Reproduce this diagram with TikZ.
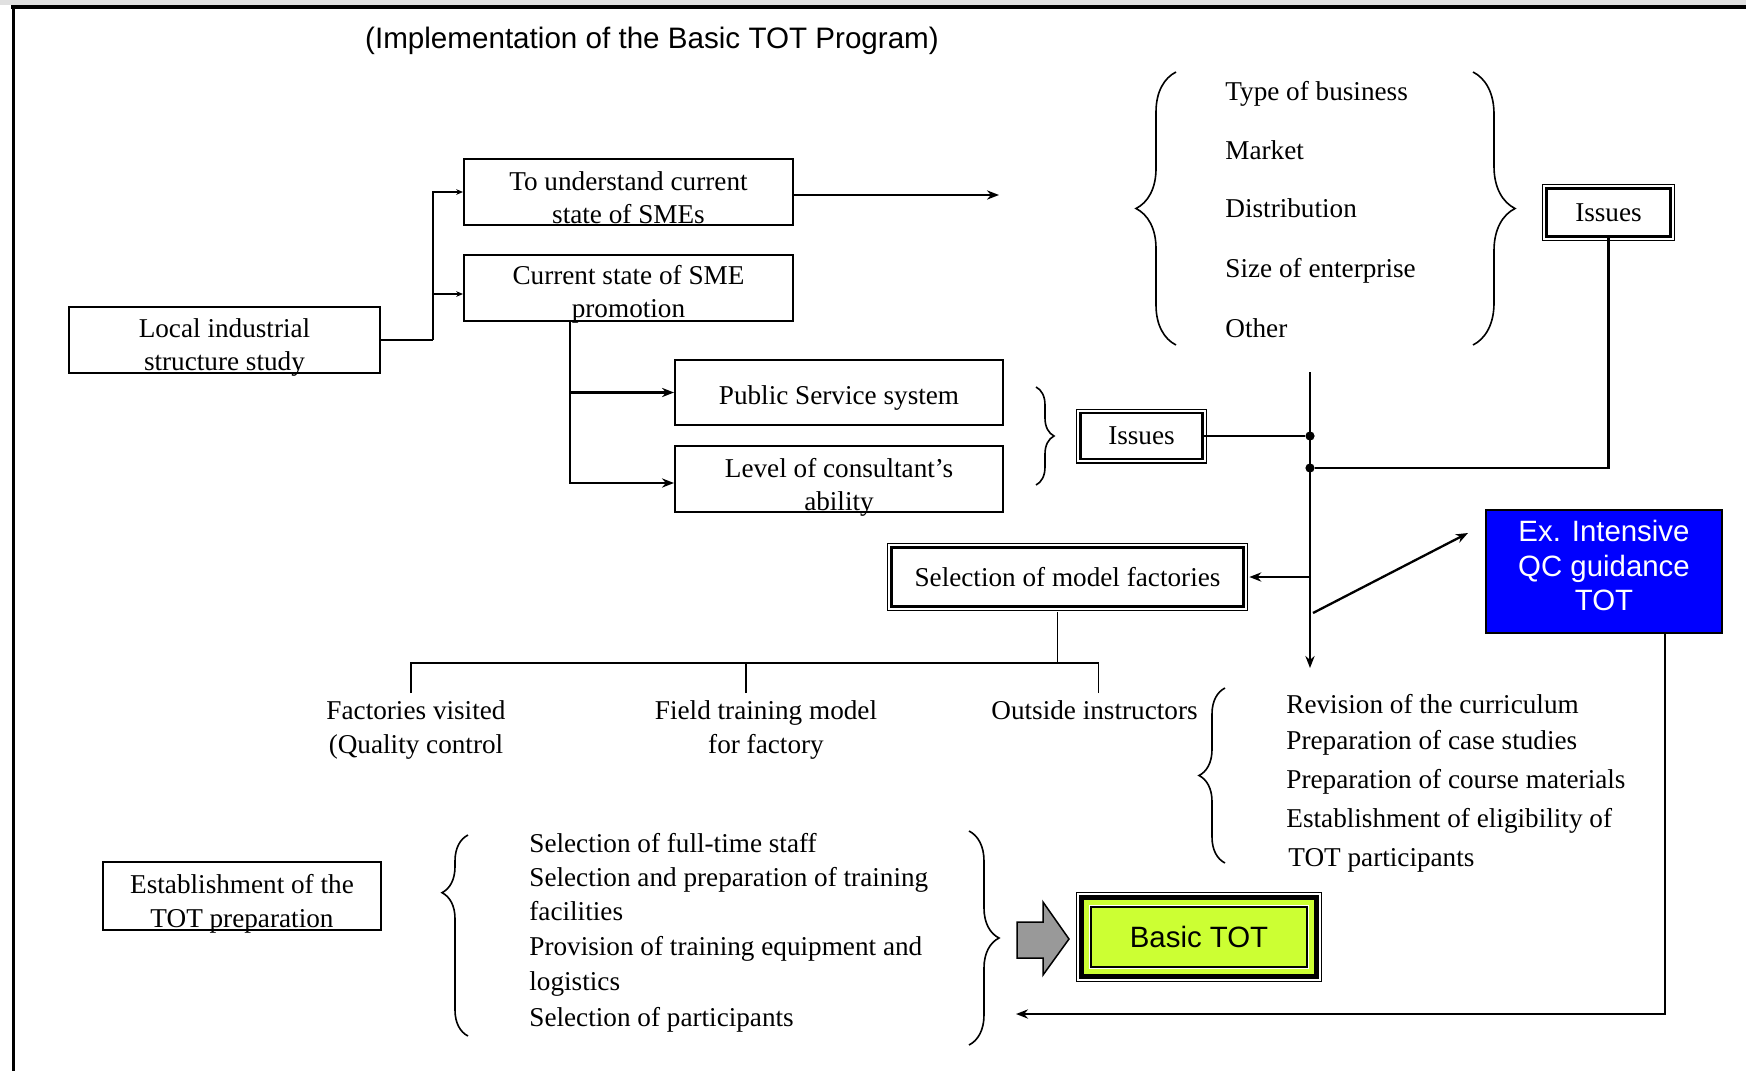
\documentclass[tikz,border=0pt]{standalone}
\usepackage{fontspec}
\setmainfont{Liberation Serif}
\setsansfont{Liberation Sans}
\usetikzlibrary{arrows.meta,decorations.pathreplacing}

\definecolor{qcblue}{HTML}{0000FF}
\definecolor{totlime}{HTML}{CCFF33}
\definecolor{arrowgray}{HTML}{999999}

% box text, set lower than centre as in the source
\newcommand{\lowtext}[2][3.5pt]{\raisebox{-#1}[\height][\depth]{\begin{tabular}{@{}c@{}}#2\end{tabular}}}

\begin{document}
\begin{tikzpicture}[x=0.5pt,y=-0.5pt,
  txt/.style={font=\fontsize{13.6}{16.7}\selectfont},
  box/.style={draw, line width=1pt, inner sep=0pt, align=center, txt},
  dblbox/.style={draw, fill=white, line width=1.3pt, inner sep=0pt, align=center, txt,
    preaction={draw, line width=4.5pt}, preaction={draw=white, line width=3.3pt}},
  item/.style={anchor=base west, inner sep=0pt, txt},
  lbl/.style={anchor=north, inner sep=3.6pt, align=center, font=\fontsize{13.6}{17}\selectfont},
  qc/.style={draw, line width=1.2pt, fill=qcblue, text=white, align=center, inner sep=0pt,
    font=\sffamily\fontsize{14.7}{17.25}\selectfont},
  basic/.style={draw, line width=1pt, fill=totlime, inner sep=0pt,
    font=\sffamily\fontsize{14.7}{17}\selectfont},
  link/.style={line width=1.15pt},
  twig/.style={line width=0.85pt},
  arr/.style={link, -{Stealth[length=6pt,width=4.6pt]}},
  tinyarr/.style={link, -{Stealth[length=3.4pt,width=2.8pt]}},
  brc/.style={decorate, decoration={brace, amplitude=#1}, line width=0.8pt},
  dot/.style={circle, fill, inner sep=0pt, minimum size=4.6pt}
]
\useasboundingbox (0,0) rectangle (1746,1071);

% frame
\fill[black!12] (0,0) rectangle (1746,5);
\draw[line width=2pt] (11,7) -- (1746,7);
\draw[line width=1.5pt] (13,7) -- (13,1071);

\node[font=\sffamily\fontsize{14.8}{17}\selectfont] (title) at (652,40.5) {(Implementation of the Basic TOT Program)};

% study boxes
\node[box, minimum width=155.5pt, minimum height=33pt] (local) at (224.5,340) {\lowtext[3.6pt]{Local industrial\\structure study}};
\node[box, minimum width=164.5pt, minimum height=33pt] (understand) at (628.5,192) {\lowtext[4.2pt]{To understand current\\state of SMEs}};
\node[box, minimum width=164.5pt, minimum height=33pt] (promo) at (628.5,288) {\lowtext[3.3pt]{Current state of SME\\promotion}};
\node[box, minimum width=164pt, minimum height=32.5pt] (public) at (839,392.5) {\lowtext[2.5pt]{Public Service system}};
\node[box, minimum width=164pt, minimum height=32pt] (level) at (839,479) {\lowtext[4.2pt]{Level of consultant's\\ability}};

\coordinate (jA) at (433,340);
\draw[link] (local.east) -- (jA);
\draw[tinyarr] (jA) |- (understand.west);
\draw[tinyarr] (jA) |- ([yshift=-3pt]promo.west);
\draw[arr] ([xshift=-29.25pt]promo.south) |- (public.west);
\draw[arr] ([xshift=-29.25pt]promo.south) |- ([yshift=-2pt]level.west);

\coordinate (uEnd) at (999,195);
\draw[arr] ([yshift=-1.5pt]understand.east) -- (uEnd);

% state of SMEs list
\draw[brc=20pt] (1176,345) -- (1176,72);
\node[item] (ty) at (1225,100) {Type of business};
\node[item] (mk) at (1225,159) {Market};
\node[item] (di) at (1225,217) {Distribution};
\node[item] (sz) at (1225,277) {Size of enterprise};
\node[item] (ot) at (1225,337) {Other};
\draw[brc=21pt] (1473,72) -- (1473,345);

\node[dblbox, minimum width=62pt, minimum height=24pt] (issB) at (1608.5,212.5) {Issues};

\draw[brc=9pt] (1036,387) -- (1036,485);
\node[dblbox, minimum width=61pt, minimum height=23pt] (issA) at (1141.5,436) {Issues};

% main line
\coordinate (vTop) at (1310,372);
\coordinate (vBot) at (1310,668);
\draw[arr] (vTop) -- (vBot);
\node[dot] (dotA) at (1310,436) {};
\node[dot] (dotB) at (1310,468) {};
\draw[link] (issA) -- (dotA);
\draw[link] (issB.south) |- (dotB);

\node[dblbox, minimum width=176pt, minimum height=29.5pt] (select) at (1067.5,577) {Selection of model factories};
\draw[arr] (select.east -| vTop) -- ([xshift=2.25pt]select.east);

\node[qc, minimum width=117.8pt, minimum height=61.3pt] (qc) at (1604,571.5) {\lowtext[-1.1pt]{Ex. Intensive\\QC guidance\\TOT}};
\coordinate (dgS) at (1313,613);
\coordinate (dgE) at (1468,533);
\draw[arr] (dgS) -- (dgE);

% model factories
\coordinate (tJ) at (1057.5,663);
\node[lbl] (fac) at (416,693) {Factories visited\\(Quality control};
\node[lbl] (field) at (766,693) {Field training model\\for factory};
\node[lbl] (outside) at (1094.5,693) {Outside instructors};
\draw[twig] ([xshift=-5pt,yshift=-2.25pt]select.south) -- (tJ);
\draw[twig] ([xshift=-2.5pt]fac.north) |- (tJ);
\draw[twig] ([xshift=2pt]outside.north) |- (tJ);
\draw[twig] ([xshift=-10pt]field.north) -- ([xshift=-10pt]field.north |- tJ);

\draw[brc=13pt] (1225,863) -- (1225,688);
\node[item] (rv) at (1286,713) {Revision of the curriculum};
\node[item] (cs) at (1286,749) {Preparation of case studies};
\node[item] (cm) at (1286,788) {Preparation of course materials};
\node[item] (el) at (1286,827) {Establishment of eligibility of};
\node[item] (tp) at (1288,866) {TOT participants};

% TOT preparation
\node[box, minimum width=139pt, minimum height=34pt] (estab) at (242,896) {\lowtext[3.9pt]{Establishment of the\\TOT preparation}};
\draw[brc=13pt, decoration={aspect=0.713}] (468,1036) -- (468,835);
\node[item] (fs) at (529,852) {Selection of full-time staff};
\node[item] (sp) at (529,886) {Selection and preparation of training};
\node[item] (fc) at (529,920) {facilities};
\node[item] (pe) at (529,955) {Provision of training equipment and};
\node[item] (lg) at (529,990) {logistics};
\node[item] (pt) at (529,1026) {Selection of participants};
\draw[brc=15pt] (969,831) -- (969,1045);

\filldraw[fill=arrowgray, draw=black, line width=0.75pt] (1017,922) -- (1043,922) -- (1043,902) -- (1069,939) -- (1043,975) -- (1043,958) -- (1017,958) -- cycle;

\node[basic, minimum width=108pt, minimum height=30pt] (basic) at (1199,937) {Basic TOT};
\draw[totlime, line width=2.5pt] ([shift={(-1.75pt,-1.75pt)}]basic.south west) rectangle ([shift={(1.75pt,1.75pt)}]basic.north east);
\draw[line width=2.5pt] ([shift={(-4.25pt,-4.25pt)}]basic.south west) rectangle ([shift={(4.25pt,4.25pt)}]basic.north east);
\draw[line width=0.6pt] ([shift={(-6.75pt,-6.75pt)}]basic.south west) rectangle ([shift={(6.75pt,6.75pt)}]basic.north east);

\coordinate (retEnd) at (1016,1014);
\draw[arr] ([xshift=30.5pt]qc.south) |- (retEnd);
\end{tikzpicture}
\end{document}
